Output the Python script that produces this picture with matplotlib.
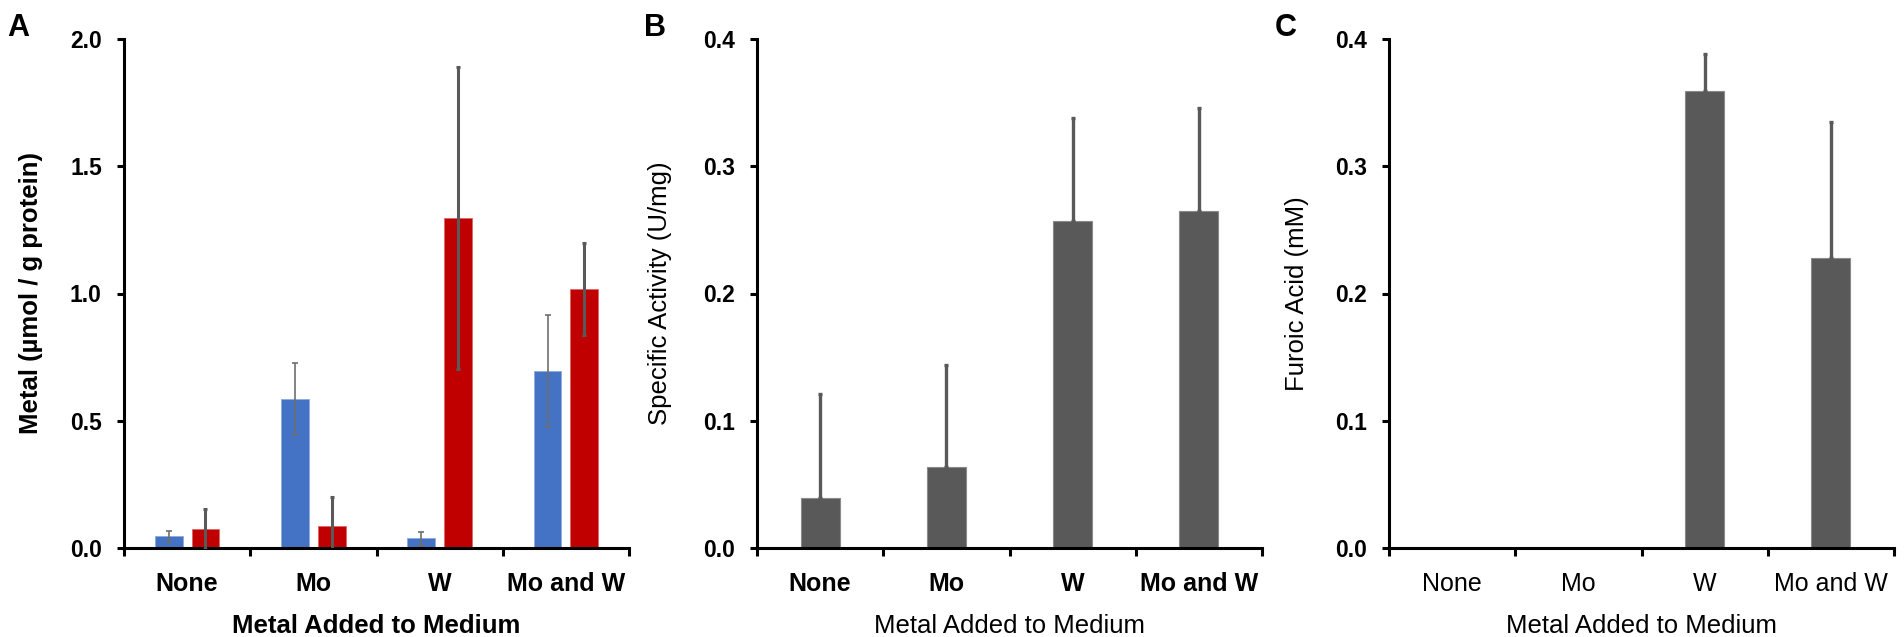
import numpy as np
import matplotlib
matplotlib.use("Agg")
import matplotlib.pyplot as plt
from matplotlib.ticker import FixedLocator, NullFormatter

plt.rcParams['font.family'] = ['Liberation Sans', 'DejaVu Sans']

# Dados
categorias = ["None", "Mo", "W", "Mo and W"]

# Painel A: metal por proteína (azul = Mo, vermelho = W)
mo_vals = [0.046, 0.586, 0.038, 0.696]
mo_err = [0.021, 0.142, 0.026, 0.220]
w_vals = [0.075, 0.088, 1.297, 1.018]
w_err = [0.080, 0.112, 0.594, 0.180]

# Painel B: atividade específica
ativ_vals = [0.039, 0.064, 0.257, 0.265]
ativ_err = [0.082, 0.080, 0.081, 0.081]

# Painel C: ácido furoico
furoico_vals = [0.0, 0.0, 0.359, 0.228]
furoico_err = [0.0, 0.0, 0.029, 0.107]

azul = "#4472C4"
vermelho = "#C00000"
cinza = "#595959"

fig = plt.figure(figsize=(19.04, 6.37), dpi=100)
W, H = 1904, 637
bottom = (H - 548) / H
height = (548 - 39) / H
width = 505 / W
axA = fig.add_axes([124 / W, bottom, width, height])
axB = fig.add_axes([757 / W, bottom, width, height])
axC = fig.add_axes([1389 / W, bottom, width, height])

x = np.arange(len(categorias))


def estilo(ax, ymax, ystep, ytick_weight, xtick_weight):
    for s in ["top", "right"]:
        ax.spines[s].set_visible(False)
    for s in ["left", "bottom"]:
        ax.spines[s].set_linewidth(2.2)
        ax.spines[s].set_color("black")
    ax.set_xlim(-0.5, len(categorias) - 0.5)
    ax.set_ylim(0, ymax)
    ticks = np.arange(0, ymax + ystep / 2, ystep)
    ax.set_yticks(ticks)
    ax.set_yticklabels([f"{v:.1f}" for v in ticks], fontsize=16.5, fontweight=ytick_weight)
    ax.tick_params(axis="y", length=5, width=2.2, pad=11, direction="out")
    # ticks nas divisões, rótulos no centro
    ax.xaxis.set_major_locator(FixedLocator(np.arange(-0.5, len(categorias), 1.0)))
    ax.xaxis.set_major_formatter(NullFormatter())
    ax.xaxis.set_minor_locator(FixedLocator(x))
    ax.set_xticklabels(categorias, minor=True, fontsize=18, fontweight=xtick_weight)
    ax.tick_params(axis="x", which="major", length=6, width=2.2, direction="out")
    ax.tick_params(axis="x", which="minor", length=0, pad=17)


# A
bw = 0.22
off = 0.145
axA.bar(x - off, mo_vals, bw, color=azul, edgecolor="#8fa9dc", linewidth=0.6, zorder=2)
axA.bar(x + off, w_vals, bw, color=vermelho, edgecolor="#d66", linewidth=0.6, zorder=2)
axA.errorbar(x - off, mo_vals, yerr=mo_err, fmt="none", ecolor="#6e6e6e",
             elinewidth=1.2, capsize=2.5, capthick=1.2, zorder=3)
axA.errorbar(x + off, w_vals, yerr=w_err, fmt="none", ecolor=cinza,
             elinewidth=2.2, capsize=1.2, capthick=2.2, zorder=3)
estilo(axA, 2.0, 0.5, "bold", "bold")
axA.set_ylabel("Metal (µmol / g protein)", fontsize=18.5, fontweight="bold")
axA.set_xlabel("Metal Added to Medium", fontsize=18.5, fontweight="bold")
axA.yaxis.set_label_coords(-0.160, 0.5)
axA.xaxis.set_label_coords(0.5, -0.130)

# B
bw2 = 0.31
axB.bar(x, ativ_vals, bw2, color=cinza, edgecolor="#8a8a8a", linewidth=0.8, zorder=2)
axB.errorbar(x, ativ_vals, yerr=[np.zeros(4), ativ_err], fmt="none", ecolor=cinza,
             elinewidth=2.4, capsize=1.2, capthick=2.4, zorder=3)
estilo(axB, 0.4, 0.1, "bold", "bold")
axB.set_ylabel("Specific Activity (U/mg)", fontsize=18.5)
axB.set_xlabel("Metal Added to Medium", fontsize=18.5)
axB.yaxis.set_label_coords(-0.168, 0.5)
axB.xaxis.set_label_coords(0.5, -0.130)

# C
axC.bar(x, furoico_vals, bw2, color=cinza, edgecolor="#8a8a8a", linewidth=0.8, zorder=2)
mask = np.array(furoico_vals) > 0
axC.errorbar(x[mask], np.array(furoico_vals)[mask],
             yerr=[np.zeros(mask.sum()), np.array(furoico_err)[mask]], fmt="none",
             ecolor=cinza, elinewidth=2.4, capsize=1.2, capthick=2.4, zorder=3)
estilo(axC, 0.4, 0.1, "bold", "normal")
axC.set_ylabel("Furoic Acid (mM)", fontsize=18.5)
axC.set_xlabel("Metal Added to Medium", fontsize=18.5)
axC.yaxis.set_label_coords(-0.158, 0.5)
axC.xaxis.set_label_coords(0.5, -0.130)

# letras dos painéis
fig.text(7 / W, 1 - 13 / H, "A", fontsize=22, fontweight="bold", va="top", ha="left")
fig.text(644 / W, 1 - 13 / H, "B", fontsize=22, fontweight="bold", va="top", ha="left")
fig.text(1275 / W, 1 - 13 / H, "C", fontsize=22, fontweight="bold", va="top", ha="left")

fig.savefig("out.png", dpi=100)
